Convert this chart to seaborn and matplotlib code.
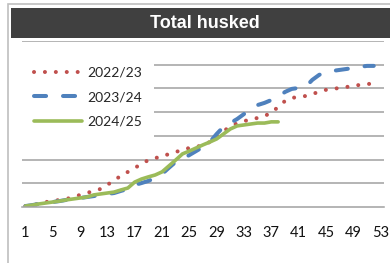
import numpy as np
import pandas as pd
import matplotlib
matplotlib.use("Agg")
import matplotlib.pyplot as plt
import seaborn as sns
from matplotlib.patches import Rectangle

# weekly cumulative values (in gridline units)
weeks_2223 = list(range(1, 53))
vals_2223 = [0.04, 0.08, 0.13, 0.21, 0.25, 0.30, 0.34, 0.42, 0.51, 0.59,
             0.68, 0.76, 0.93, 1.14, 1.31, 1.48, 1.65, 1.81, 1.98, 2.07,
             2.11, 2.24, 2.32, 2.41, 2.49, 2.53, 2.62, 2.74, 2.91, 3.21,
             3.38, 3.54, 3.63, 3.67, 3.76, 3.84, 3.97, 4.22, 4.47, 4.60,
             4.64, 4.68, 4.77, 4.85, 4.94, 4.98, 5.02, 5.06, 5.11, 5.15,
             5.19, 5.19]

weeks_2324 = list(range(1, 53))
vals_2324 = [0.04, 0.08, 0.13, 0.17, 0.21, 0.25, 0.30, 0.34, 0.38, 0.42,
             0.46, 0.51, 0.55, 0.59, 0.68, 0.76, 0.93, 1.01, 1.10, 1.22,
             1.39, 1.65, 1.90, 2.03, 2.19, 2.36, 2.53, 2.74, 3.08, 3.38,
             3.54, 3.71, 3.92, 4.09, 4.30, 4.39, 4.51, 4.64, 4.85, 4.98,
             5.02, 5.06, 5.36, 5.57, 5.70, 5.74, 5.78, 5.82, 5.86, 5.91,
             5.95, 5.95]

weeks_2425 = list(range(1, 39))
vals_2425 = [0.04, 0.08, 0.13, 0.17, 0.21, 0.25, 0.30, 0.34, 0.38, 0.42,
             0.51, 0.55, 0.59, 0.63, 0.72, 0.80, 1.05, 1.18, 1.27, 1.35,
             1.48, 1.73, 1.98, 2.24, 2.36, 2.49, 2.62, 2.74, 2.87, 3.08,
             3.29, 3.42, 3.46, 3.50, 3.54, 3.54, 3.59, 3.59]

tick_labels = [str(w) for w in range(1, 54, 4)]

sns.set_style("white")
plt.rcParams['font.family'] = ['Lato', 'DejaVu Sans']

W, H = 390, 263
fig = plt.figure(figsize=(W / 100, H / 100), dpi=100)

# outer light border and title bar
fig.patches.append(Rectangle((8 / W, -0.1), 1.1, (263 - 4) / H + 0.1,
                             transform=fig.transFigure, fill=False,
                             edgecolor="#BFBFBF", lw=1.2))
fig.patches.append(Rectangle((11 / W, (263 - 38) / H), 1.0, 30 / H,
                             transform=fig.transFigure, facecolor="#404040",
                             edgecolor="none"))
fig.text(205 / W, (263 - 23.5) / H, "Total husked", color="white",
         fontsize=13, fontweight="bold", family="Liberation Sans",
         ha="center", va="center")

ax = fig.add_axes([22 / W, 56 / H, 362 / W, 166 / H])

grid_c = "#A0A0A0"
sns.lineplot(x=weeks_2223, y=vals_2223, ax=ax, color="#C0504D", lw=2.9,
             linestyle=(0, (0.01, 2.7)), dash_capstyle="round",
             label="2022/23")
sns.lineplot(x=weeks_2324, y=vals_2324, ax=ax, color="#4F81BD", lw=2.9,
             linestyle=(0, (3.0, 4.2)), dash_capstyle="round",
             label="2023/24")
sns.lineplot(x=weeks_2425, y=vals_2425, ax=ax, color="#9BBB59", lw=2.6,
             solid_capstyle="round", label="2024/25")

ax.set_xlim(0.5, 53.5)
ax.set_ylim(0, 7)
ax.set_yticks(np.arange(1, 8))
ax.yaxis.grid(True, color=grid_c, lw=1.1)
ax.set_yticklabels([])
ax.tick_params(axis="y", length=0)

ax.set_xticks(range(1, 54, 4))
ax.set_xticklabels(tick_labels, fontsize=10.5, color="#111111")
ax.set_xticks(np.arange(0.5, 54, 1), minor=True)
ax.tick_params(axis="x", which="major", length=0, pad=14)
ax.tick_params(axis="x", which="minor", length=3.6, width=0.8,
               color=grid_c, direction="out")

for s in ["top", "right", "left"]:
    ax.spines[s].set_visible(False)
ax.spines["bottom"].set_color(grid_c)
ax.spines["bottom"].set_linewidth(1.1)
ax.set_xlabel("")
ax.set_ylabel("")

leg = ax.legend(loc="upper left", bbox_to_anchor=(0, 0.916), fontsize=10,
                frameon=True, fancybox=False, borderaxespad=0,
                borderpad=0.85, handlelength=3.5, handletextpad=0.35,
                labelspacing=0.9)
leg.get_frame().set_facecolor("white")
leg.get_frame().set_edgecolor("none")
leg.get_frame().set_alpha(1)

fig.savefig("out.png", dpi=100)
